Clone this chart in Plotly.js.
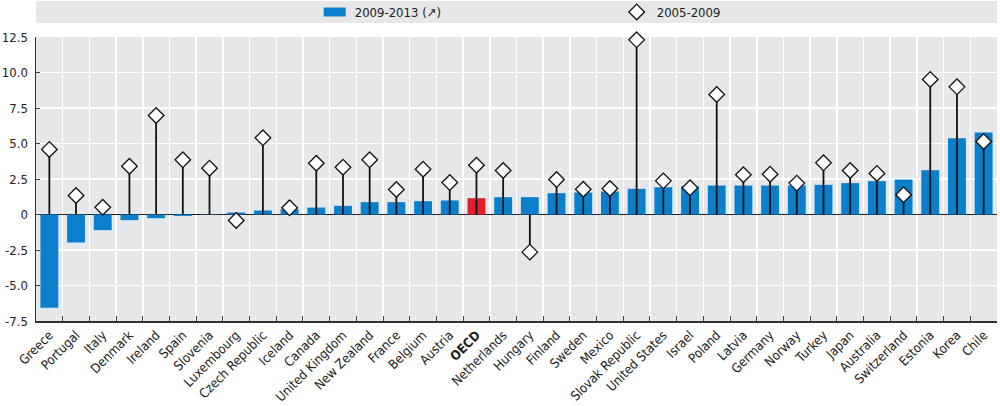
<!DOCTYPE html>
<html>
<head>
<meta charset="utf-8">
<script src="https://cdn.plot.ly/plotly-3.0.1.min.js"></script>
<style>
html,body{margin:0;padding:0;background:#fff;}
#chart{width:1000px;height:406px;}
#chart text{font-stretch:condensed !important;}
</style>
</head>
<body>
<div id="chart"></div>
<script>
const countries = ["Greece","Portugal","Italy","Denmark","Ireland","Spain","Slovenia","Luxembourg","Czech Republic","Iceland","Canada","United Kingdom","New Zealand","France","Belgium","Austria","OECD","Netherlands","Hungary","Finland","Sweden","Mexico","Slovak Republic","United States","Israel","Poland","Latvia","Germany","Norway","Turkey","Japan","Australia","Switzerland","Estonia","Korea","Chile"];
const tickLabels = ["Greece","Portugal","Italy","Denmark","Ireland","Spain","Slovenia","Luxembourg","Czech Republic","Iceland","Canada","United Kingdom","New Zealand","France","Belgium","Austria","<b>OECD</b>","Netherlands","Hungary","Finland","Sweden","Mexico","Slovak Republic","United States","Israel","Poland","Latvia","Germany","Norway","Turkey","Japan","Australia","Switzerland","Estonia","Korea","Chile"];
const v2009_2013 = [-6.57,-1.97,-1.1,-0.4,-0.26,-0.1,0.02,0.14,0.28,0.37,0.49,0.61,0.87,0.87,0.94,0.99,1.15,1.22,1.22,1.5,1.55,1.62,1.81,1.92,1.99,2.04,2.04,2.04,2.04,2.09,2.21,2.35,2.46,3.12,5.37,5.77];
const v2005_2009 = [4.58,1.34,0.51,3.40,6.97,3.85,3.26,-0.42,5.4,0.47,3.61,3.33,3.85,1.76,3.19,2.25,3.47,3.1,-2.65,2.46,1.78,1.83,12.3,2.37,1.88,8.45,2.8,2.84,2.21,3.64,3.1,2.89,1.39,9.51,8.99,5.14];
const yTickVals = [-7.5,-5,-2.5,0,2.5,5,7.5,10,12.5];
const yTickText = ["-7.5","-5.0","-2.5","0","2.5","5.0","7.5","10.0","12.5"];

const blue = "#0a80cc", red = "#e3202a";
const barColors = countries.map(c => c === "OECD" ? red : blue);

const bars = {
  type: "bar", name: "2009-2013 (↗)", x: countries, y: v2009_2013,
  marker: {color: barColors, line: {width: 0}}, width: 0.67
};
const diamonds = {
  type: "scatter", mode: "markers", name: "2005-2009", x: countries, y: v2005_2009,
  cliponaxis: false,
  marker: {symbol: "diamond", size: 12, color: "#ffffff", line: {color: "#111", width: 1.3}},
  error_y: {type: "data", symmetric: false,
    array: v2005_2009.map(v => v < 0 ? -v : 0),
    arrayminus: v2005_2009.map(v => v > 0 ? v : 0),
    color: "#111", thickness: 1.8, width: 0}
};

const fam = "'Liberation Sans Narrow', 'DejaVu Sans', sans-serif";
const font = {family: fam, size: 13, color: "#222"};

const layout = {
  width: 1000, height: 406,
  margin: {l: 36, r: 3, t: 37, b: 85, autoexpand: false},
  paper_bgcolor: "#ffffff", plot_bgcolor: "#e6e7e9",
  font: font,
  showlegend: true,
  legend: {orientation: "h", x: 0.29, xanchor: "left", y: 1.088, yanchor: "middle",
    bgcolor: "rgba(0,0,0,0)", entrywidth: 257, entrywidthmode: "pixels",
    font: {family: fam, size: 13, color: "#222"}, traceorder: "normal"},
  xaxis: {type: "category", range: [-0.5, 35.5], tickson: "boundaries",
    showgrid: true, gridcolor: "#ffffff", gridwidth: 1.5,
    ticks: "inside", ticklen: 5, tickcolor: "#444", tickwidth: 1,
    tickvals: countries, ticktext: tickLabels, tickangle: -45,
    showline: true, linecolor: "#333", linewidth: 1.5, zeroline: false,
    tickfont: {family: fam, size: 13, color: "#222"}, fixedrange: true},
  yaxis: {range: [-7.5, 12.5], tickvals: yTickVals, ticktext: yTickText,
    showgrid: true, gridcolor: "#ffffff", gridwidth: 1.5,
    zeroline: true, zerolinecolor: "#222", zerolinewidth: 1.5,
    showline: true, linecolor: "#333", linewidth: 1.5,
    ticks: "inside", ticklen: 4, tickcolor: "#444", tickwidth: 1, ticklabelstandoff: 4,
    tickfont: {family: fam, size: 13, color: "#222"}, fixedrange: true},
  shapes: [{type: "rect", xref: "paper", yref: "paper", x0: 0, x1: 1, y0: 1.049, y1: 1.127,
    fillcolor: "#e6e7e9", line: {width: 0}, layer: "below"}],
  bargap: 0.33
};

function widenSwatch(gd) {
  const groups = gd.querySelectorAll(".legend .traces");
  if (groups.length) {
    groups[0].querySelectorAll(".legendpoints path").forEach(p => {
      p.setAttribute("d", "M11,4.5H-11V-4.5H11Z");
    });
  }
}

Plotly.newPlot("chart", [bars, diamonds], layout, {displayModeBar: false, staticPlot: true}).then(gd => {
  widenSwatch(gd);
  setTimeout(() => widenSwatch(gd), 50);
});
</script>
</body>
</html>
